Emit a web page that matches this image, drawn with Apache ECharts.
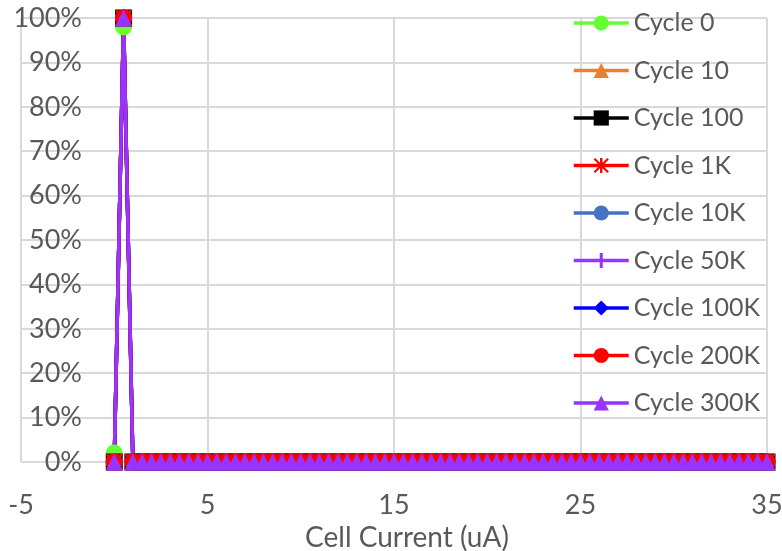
<!DOCTYPE html>
<html>
<head>
<meta charset="utf-8">
<script src="https://cdn.jsdelivr.net/npm/echarts@6/dist/echarts.min.js"></script>
<style>
  html, body { margin: 0; padding: 0; background: #ffffff; }
  #chart { width: 782px; height: 551px; }
</style>
</head>
<body>
<div id="chart"></div>
<script>
// Cell current bins (uA)
const currents = [
  0, 0.5, 1, 1.5, 2, 2.5, 3, 3.5, 4, 4.5,
  5, 5.5, 6, 6.5, 7, 7.5, 8, 8.5, 9, 9.5,
  10, 10.5, 11, 11.5, 12, 12.5, 13, 13.5, 14, 14.5,
  15, 15.5, 16, 16.5, 17, 17.5, 18, 18.5, 19, 19.5,
  20, 20.5, 21, 21.5, 22, 22.5, 23, 23.5, 24, 24.5,
  25, 25.5, 26, 26.5, 27, 27.5, 28, 28.5, 29, 29.5,
  30, 30.5, 31, 31.5, 32, 32.5, 33, 33.5, 34, 34.5,
  35
];

// Share of cells per current bin (%), one list per cycle count
const cycle0 = [
  2, 98, 0, 0, 0, 0, 0, 0, 0, 0,
  0, 0, 0, 0, 0, 0, 0, 0, 0, 0,
  0, 0, 0, 0, 0, 0, 0, 0, 0, 0,
  0, 0, 0, 0, 0, 0, 0, 0, 0, 0,
  0, 0, 0, 0, 0, 0, 0, 0, 0, 0,
  0, 0, 0, 0, 0, 0, 0, 0, 0, 0,
  0, 0, 0, 0, 0, 0, 0, 0, 0, 0,
  0
];
const cycle10 = [
  0, 100, 0, 0, 0, 0, 0, 0, 0, 0,
  0, 0, 0, 0, 0, 0, 0, 0, 0, 0,
  0, 0, 0, 0, 0, 0, 0, 0, 0, 0,
  0, 0, 0, 0, 0, 0, 0, 0, 0, 0,
  0, 0, 0, 0, 0, 0, 0, 0, 0, 0,
  0, 0, 0, 0, 0, 0, 0, 0, 0, 0,
  0, 0, 0, 0, 0, 0, 0, 0, 0, 0,
  0
];
const cycle100 = [
  0, 100, 0, 0, 0, 0, 0, 0, 0, 0,
  0, 0, 0, 0, 0, 0, 0, 0, 0, 0,
  0, 0, 0, 0, 0, 0, 0, 0, 0, 0,
  0, 0, 0, 0, 0, 0, 0, 0, 0, 0,
  0, 0, 0, 0, 0, 0, 0, 0, 0, 0,
  0, 0, 0, 0, 0, 0, 0, 0, 0, 0,
  0, 0, 0, 0, 0, 0, 0, 0, 0, 0,
  0
];
const cycle1K = [
  0, 100, 0, 0, 0, 0, 0, 0, 0, 0,
  0, 0, 0, 0, 0, 0, 0, 0, 0, 0,
  0, 0, 0, 0, 0, 0, 0, 0, 0, 0,
  0, 0, 0, 0, 0, 0, 0, 0, 0, 0,
  0, 0, 0, 0, 0, 0, 0, 0, 0, 0,
  0, 0, 0, 0, 0, 0, 0, 0, 0, 0,
  0, 0, 0, 0, 0, 0, 0, 0, 0, 0,
  0
];
const cycle10K = [
  0, 100, 0, 0, 0, 0, 0, 0, 0, 0,
  0, 0, 0, 0, 0, 0, 0, 0, 0, 0,
  0, 0, 0, 0, 0, 0, 0, 0, 0, 0,
  0, 0, 0, 0, 0, 0, 0, 0, 0, 0,
  0, 0, 0, 0, 0, 0, 0, 0, 0, 0,
  0, 0, 0, 0, 0, 0, 0, 0, 0, 0,
  0, 0, 0, 0, 0, 0, 0, 0, 0, 0,
  0
];
const cycle50K = [
  0, 100, 0, 0, 0, 0, 0, 0, 0, 0,
  0, 0, 0, 0, 0, 0, 0, 0, 0, 0,
  0, 0, 0, 0, 0, 0, 0, 0, 0, 0,
  0, 0, 0, 0, 0, 0, 0, 0, 0, 0,
  0, 0, 0, 0, 0, 0, 0, 0, 0, 0,
  0, 0, 0, 0, 0, 0, 0, 0, 0, 0,
  0, 0, 0, 0, 0, 0, 0, 0, 0, 0,
  0
];
const cycle100K = [
  0, 100, 0, 0, 0, 0, 0, 0, 0, 0,
  0, 0, 0, 0, 0, 0, 0, 0, 0, 0,
  0, 0, 0, 0, 0, 0, 0, 0, 0, 0,
  0, 0, 0, 0, 0, 0, 0, 0, 0, 0,
  0, 0, 0, 0, 0, 0, 0, 0, 0, 0,
  0, 0, 0, 0, 0, 0, 0, 0, 0, 0,
  0, 0, 0, 0, 0, 0, 0, 0, 0, 0,
  0
];
const cycle200K = [
  0, 100, 0, 0, 0, 0, 0, 0, 0, 0,
  0, 0, 0, 0, 0, 0, 0, 0, 0, 0,
  0, 0, 0, 0, 0, 0, 0, 0, 0, 0,
  0, 0, 0, 0, 0, 0, 0, 0, 0, 0,
  0, 0, 0, 0, 0, 0, 0, 0, 0, 0,
  0, 0, 0, 0, 0, 0, 0, 0, 0, 0,
  0, 0, 0, 0, 0, 0, 0, 0, 0, 0,
  0
];
const cycle300K = [
  0, 100, 0, 0, 0, 0, 0, 0, 0, 0,
  0, 0, 0, 0, 0, 0, 0, 0, 0, 0,
  0, 0, 0, 0, 0, 0, 0, 0, 0, 0,
  0, 0, 0, 0, 0, 0, 0, 0, 0, 0,
  0, 0, 0, 0, 0, 0, 0, 0, 0, 0,
  0, 0, 0, 0, 0, 0, 0, 0, 0, 0,
  0, 0, 0, 0, 0, 0, 0, 0, 0, 0,
  0
];

const seriesNames = ['Cycle 0', 'Cycle 10', 'Cycle 100', 'Cycle 1K', 'Cycle 10K',
                     'Cycle 50K', 'Cycle 100K', 'Cycle 200K', 'Cycle 300K'];
const seriesValues = [cycle0, cycle10, cycle100, cycle1K, cycle10K,
                      cycle50K, cycle100K, cycle200K, cycle300K];

// Marker shapes
const ASTERISK = 'path://M4.2,0 L5.8,0 L5.8,10 L4.2,10 Z M0,1 L1,0 L10,9 L9,10 Z M9,0 L10,1 L1,10 L0,9 Z';
const PLUS = 'path://M4,0 L6,0 L6,4 L10,4 L10,6 L6,6 L6,10 L4,10 L4,6 L0,6 L0,4 L4,4 Z';

const styles = [
  { color: '#66ff33', symbol: 'circle' },
  { color: '#ed7d31', symbol: 'triangle' },
  { color: '#000000', symbol: 'rect' },
  { color: '#ff0000', symbol: ASTERISK },
  { color: '#4472c4', symbol: 'circle' },
  { color: '#9933ff', symbol: PLUS },
  { color: '#0000ff', symbol: 'diamond' },
  { color: '#ff0000', symbol: 'circle' },
  { color: '#9933ff', symbol: 'triangle' }
];

const FONT = 'Lato, "Open Sans", sans-serif';
const TEXT = '#595959';
const GRID = '#d9d9d9';

const chart = echarts.init(document.getElementById('chart'), null, { renderer: 'canvas' });

chart.setOption({
  animation: false,
  backgroundColor: '#ffffff',
  grid: { left: 21, right: 15, top: 18, bottom: 89, containLabel: false, outerBoundsMode: 'none' },
  legend: {
    orient: 'vertical',
    left: 572,
    top: 9,
    padding: 0,
    itemWidth: 55,
    itemHeight: 19,
    itemGap: 19.5,
    lineStyle: { width: 3.5 },
    textStyle: { color: TEXT, fontFamily: FONT, fontSize: 25, lineHeight: 28 },
    data: seriesNames
  },
  xAxis: {
    type: 'value',
    min: -5,
    max: 35,
    interval: 10,
    name: 'Cell Current (uA)',
    nameLocation: 'middle',
    nameGap: 59,
    nameTextStyle: { color: TEXT, fontFamily: FONT, fontSize: 28, padding: [0, 0, 0, 26] },
    axisLine: { show: false },
    axisTick: { show: false },
    axisLabel: { color: TEXT, fontFamily: FONT, fontSize: 27, margin: 30 },
    splitLine: { show: true, lineStyle: { color: GRID, width: 2 } }
  },
  yAxis: {
    type: 'value',
    min: 0,
    max: 100,
    interval: 10,
    position: 'left',
    axisLine: { show: false, onZero: false },
    axisTick: { show: false },
    axisLabel: {
      inside: true,
      margin: 61,
      align: 'right',
      color: TEXT,
      fontFamily: FONT,
      fontSize: 27,
      formatter: '{value}%'
    },
    splitLine: { show: true, lineStyle: { color: GRID, width: 2 } }
  },
  series: seriesNames.map((name, i) => ({
    name: name,
    type: 'line',
    data: currents.map((x, j) => [x, seriesValues[i][j]]),
    symbol: styles[i].symbol,
    symbolSize: 17,
    showAllSymbol: true,
    clip: false,
    lineStyle: { color: styles[i].color, width: 3.5 },
    itemStyle: { color: styles[i].color },
    emphasis: { disabled: true }
  }))
});
</script>
</body>
</html>
